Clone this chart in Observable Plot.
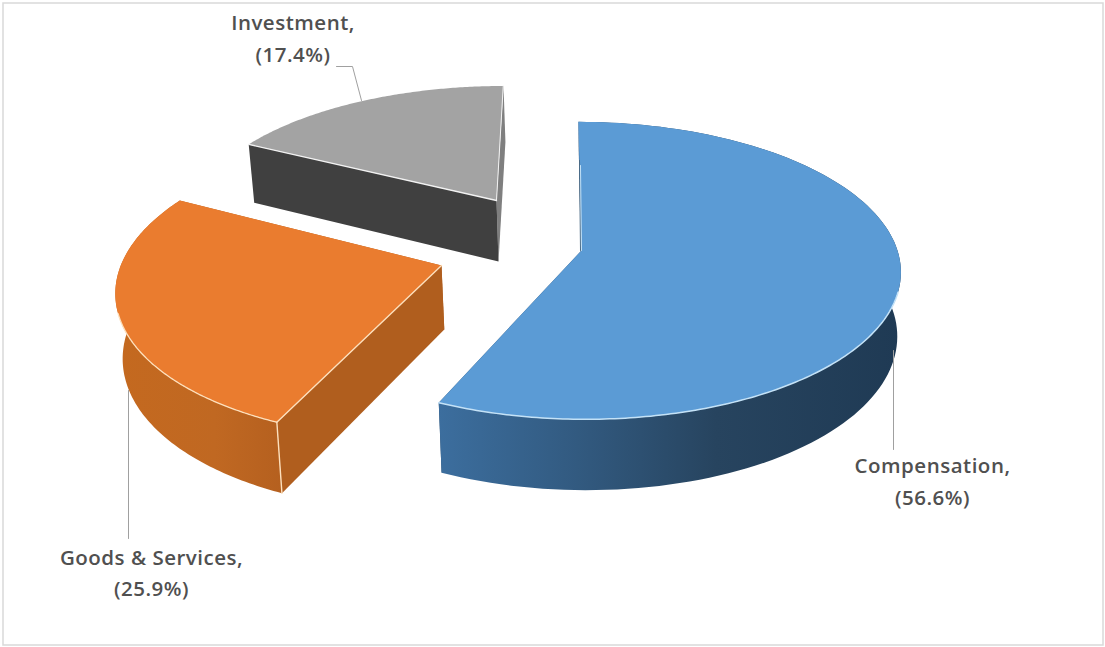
<!DOCTYPE html>
<html>
<head>
<meta charset="utf-8">
<script src="https://cdn.jsdelivr.net/npm/d3@7"></script>
<script src="https://cdn.jsdelivr.net/npm/@observablehq/plot@0.6"></script>
<style>
html,body{margin:0;padding:0;background:#fff;}
svg{display:block;}
</style>
</head>
<body>
<div id="chart"></div>
<script>
// Data
const categories = ["Compensation", "Goods & Services", "Investment"];
const shares = [56.6, 25.9, 17.4];

// Colours
const topColors = ["#5b9bd5", "#ea7c2f", "#a3a3a3"];
const rimColors = ["#c4e2f7", "#fde0bd", "#f2f2f2"];
const radialColors = ["#2b4c6b", "#b05e1e", "#404040"];
const endColors = ["#2b4c6b", "#b05e1e", "#7f7f7f"];

// Pseudo-3D layout of each exploded slice (apex and scale of the disc)
const apexX = [581, 441, 496];
const apexY = [250, 265, 200];
const scaleX = [1.0, 1.015, 0.95];
const scaleY = [1.0, 1.03, 0.89];
const RX = 316, RY = 146, K = 0.135, VX = 555;

// Label layout
const labelX = [932, 151, 292.5];
const labelY = [[466, 498], [558, 589], [23, 55]];

const total = d3.sum(shares);
const cum = [0, ...d3.cumsum(shares)];
const angle = (t) => (t / total) * 2 * Math.PI;
const slices = shares.map((s, i) => ({i, a0: angle(cum[i]), a1: angle(cum[i + 1])}));

function rimPoint(i, a) {
  const u = Math.sin(a), v = Math.cos(a), f = 1 / (1 + K * v);
  const off = apexX[i] - VX;
  return {
    x: apexX[i] + (RX * scaleX[i] * u + off) * f - off,
    y: apexY[i] - RY * scaleY[i] * v * f
  };
}
const drop = (p) => ({x: p.x + (640 - p.x) * 0.014, y: p.y + 52 + 0.045 * p.y});
const apex = (i) => ({x: apexX[i], y: apexY[i]});
const arc = (i, a0, a1) => d3.range(0, 121).map((k) => rimPoint(i, a0 + (a1 - a0) * k / 120));
const wallFace = (i, a0, a1) => {
  const t = arc(i, a0, a1);
  return [...t, ...t.map(drop).reverse()];
};
const radialFace = (i, a) => {
  const A = apex(i), E = rimPoint(i, a);
  return [A, E, drop(E), drop(A)];
};

const wallFill = ["url(#wall0)", "url(#wall1)", null];
const marks = [
  Plot.frame({inset: 2.5, stroke: "#d9d9d9", strokeWidth: 1.5}),
  () => {
    const ns = "http://www.w3.org/2000/svg";
    const defs = document.createElementNS(ns, "defs");
    const grads = {
      wall0: [["0%", "#3c6e9e"], ["30%", "#325a80"], ["60%", "#27445f"], ["100%", "#1f3a54"]],
      wall1: [["0%", "#c4691f"], ["60%", "#c06822"], ["100%", "#b5601f"]]
    };
    for (const id in grads) {
      const g = document.createElementNS(ns, "linearGradient");
      g.setAttribute("id", id);
      for (const [o, c] of grads[id]) {
        const st = document.createElementNS(ns, "stop");
        st.setAttribute("offset", o);
        st.setAttribute("stop-color", c);
        g.appendChild(st);
      }
      defs.appendChild(g);
    }
    return defs;
  }
];

const poly = (pts, fill) => Plot.line(pts, {x: "x", y: "y", fill, stroke: "none", curve: "linear-closed"});
const edge = (pts, stroke, strokeWidth = 1.3) => Plot.line(pts, {x: "x", y: "y", stroke, strokeWidth, curve: "linear"});

// Painter's order: back slice first
for (const {i, a0, a1} of [slices[2], slices[1], slices[0]]) {
  marks.push(poly(radialFace(i, a1), endColors[i]));
  marks.push(poly(radialFace(i, a0), radialColors[i]));
  if (wallFill[i]) marks.push(poly(wallFace(i, a0, a1), wallFill[i]));
  marks.push(poly([apex(i), ...arc(i, a0, a1)], topColors[i]));
}

// Light bevel edges
const [s0, s1, s2] = slices;
marks.push(edge(arc(0, 1.85, s0.a1), rimColors[0], 1.5));
marks.push(edge(arc(1, s1.a0, 4.4), rimColors[1], 1.3));
marks.push(edge([apex(1), rimPoint(1, s1.a0), drop(rimPoint(1, s1.a0))], rimColors[1], 1.4));
marks.push(edge([apex(2), rimPoint(2, s2.a0)], rimColors[2], 1.3));
marks.push(edge([rimPoint(2, s2.a1 - 0.001), apex(2)], rimColors[2], 1));
marks.push(edge([{x: 579, y: 160}, {x: 580, y: 250}], "#4a6a85", 1));
marks.push(edge([{x: 580, y: 165}, {x: 581, y: 250}], rimColors[0], 1));

// Leader lines
const leaderColor = "#a0a0a0";
marks.push(edge([{x: 893, y: 350}, {x: 893, y: 449}], leaderColor, 1));
marks.push(edge([{x: 128, y: 390}, {x: 128, y: 538}], leaderColor, 1));
marks.push(edge([{x: 336, y: 66}, {x: 352, y: 66}, {x: 361, y: 100}], leaderColor, 1));

// Labels
const labels = categories.flatMap((c, i) => [
  {x: labelX[i], y: labelY[i][0], t: `${c},`},
  {x: labelX[i], y: labelY[i][1], t: `(${shares[i]}%)`}
]);
marks.push(Plot.text(labels, {
  x: "x", y: "y", text: "t",
  fontFamily: "Open Sans", fontWeight: 600, fontSize: 20.5, fill: "#505050", textAnchor: "middle"
}));

const chart = Plot.plot({
  width: 1105, height: 647,
  margin: 0,
  style: {letterSpacing: "0.5px"},
  x: {domain: [0, 1105], range: [0, 1105], axis: null},
  y: {domain: [0, 647], range: [0, 647], axis: null},
  marks
});
document.getElementById("chart").appendChild(chart);
</script>
</body>
</html>
